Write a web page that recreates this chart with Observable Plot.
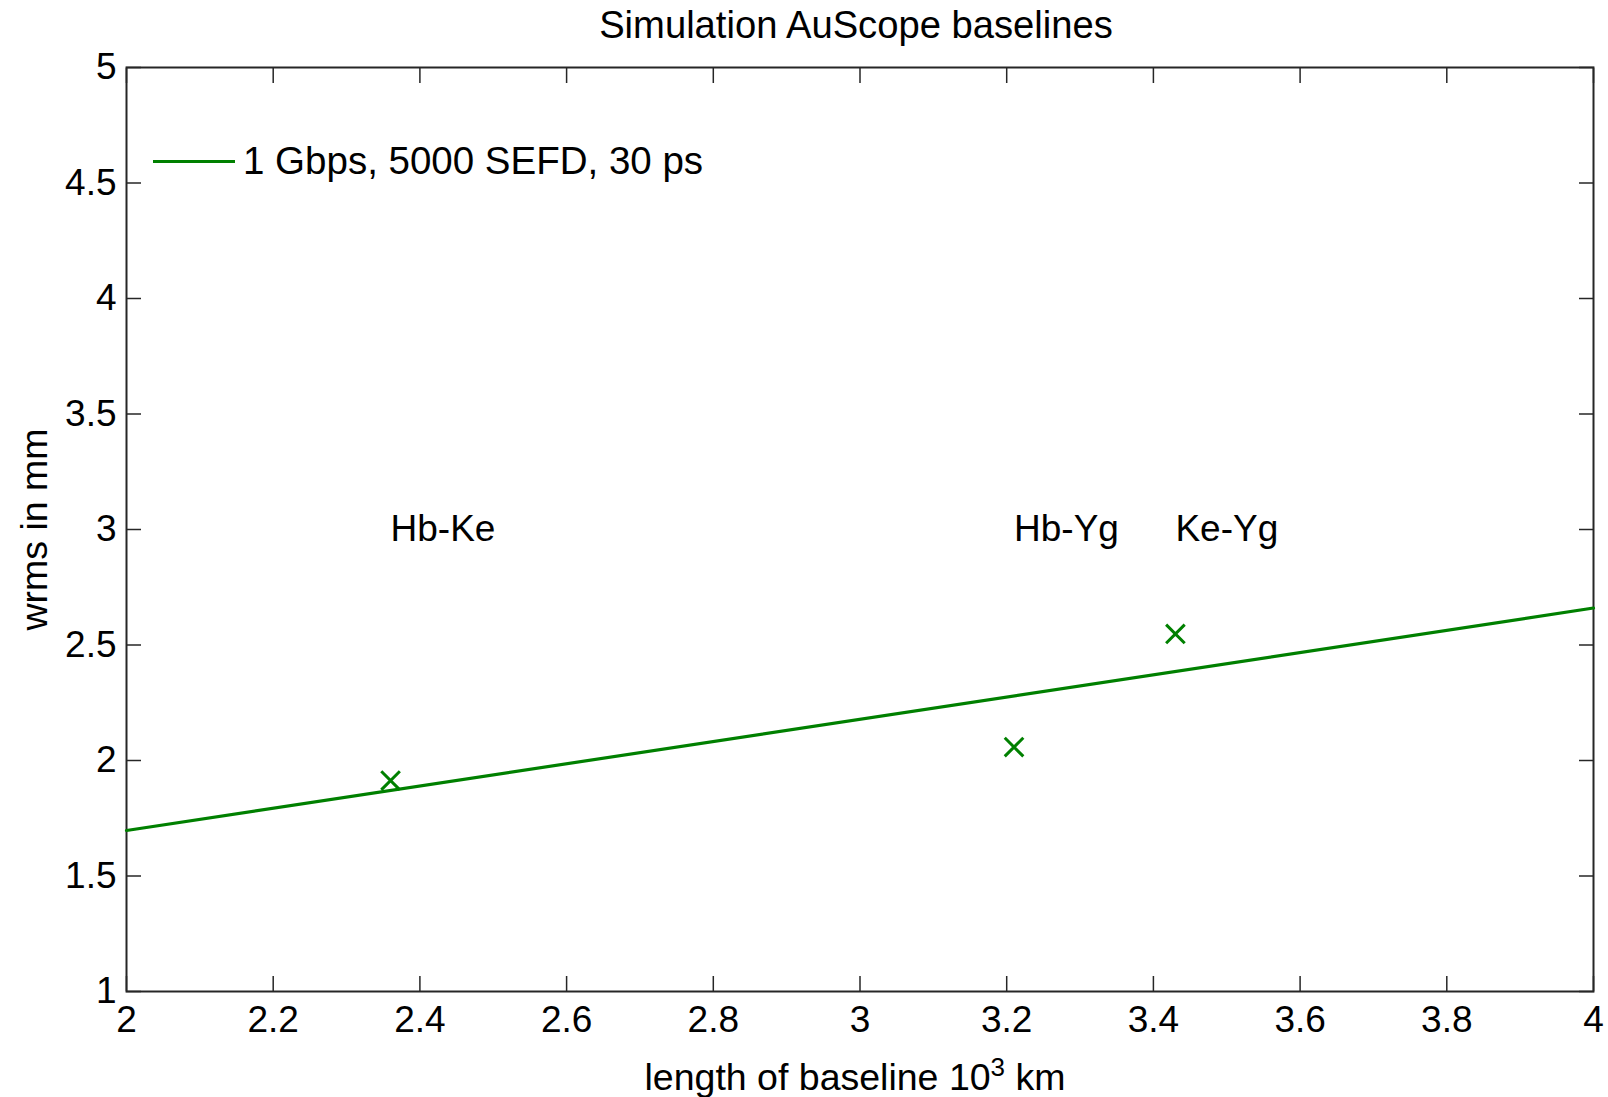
<!DOCTYPE html>
<html><head><meta charset="utf-8">
<script src="https://cdn.jsdelivr.net/npm/d3@7"></script>
<script src="https://cdn.jsdelivr.net/npm/@observablehq/plot@0.6"></script>
<style>
body{margin:0;background:#fff}
#wrap{position:relative;width:1608px;height:1097px;font-family:"Liberation Sans",Arial,sans-serif}
#legend{position:absolute;left:153px;top:139px;display:flex;align-items:center;height:44px;font-size:38.5px;color:#000}
#legend .swatch{width:82px;height:3px;background:#008000;margin-right:8px}
</style>
</head><body><div id="wrap"></div>
<script>
// Data
const baselines = ["Hb-Ke", "Hb-Yg", "Ke-Yg"];
const lengths = [2.36, 3.21, 3.43];
const wrms = [1.913, 2.058, 2.548];
const labelY = [3, 3, 3];
const fitX = [2, 4];
const fitY = [1.697, 2.66];
const xTicks = [2, 2.2, 2.4, 2.6, 2.8, 3, 3.2, 3.4, 3.6, 3.8, 4];
const yTicks = [1, 1.5, 2, 2.5, 3, 3.5, 4, 4.5, 5];
const seriesName = "1 Gbps, 5000 SEFD, 30 ps";
const title = "Simulation AuScope baselines";
const xLabelMain = "length of baseline 10";
const xLabelSup = "3";
const xLabelUnit = " km";
const yLabel = "wrms in mm";

const points = baselines.map((b, i) => ({name: b, x: lengths[i], y: wrms[i], ly: labelY[i]}));
const fit = fitX.map((x, i) => ({x, y: fitY[i]}));
const green = "#008000";
const ink = "#262626";
const fmt = d => String(d);

const chart = Plot.plot({
  width: 1608, height: 1097,
  marginLeft: 126, marginRight: 15, marginTop: 67, marginBottom: 106,
  style: {fontFamily: '"Liberation Sans", Arial, sans-serif', fontSize: "37px", background: "#fff", color: "#000"},
  x: {domain: [2, 4]},
  y: {domain: [1, 5]},
  marks: [
    Plot.axisX(xTicks, {anchor: "bottom", tickSize: 0, tickPadding: 14, tickFormat: fmt, fontSize: 37, label: null, fill: "#000"}),
    Plot.axisX(xTicks, {anchor: "bottom", tickSize: -15, text: null, label: null, stroke: ink, strokeWidth: 1.5}),
    Plot.axisX(xTicks, {anchor: "top", tickSize: -15, text: null, label: null, stroke: ink, strokeWidth: 1.5}),
    Plot.axisY(yTicks, {anchor: "left", tickSize: 0, tickPadding: 10, tickFormat: fmt, fontSize: 37, label: null, fill: "#000"}),
    Plot.axisY(yTicks, {anchor: "left", tickSize: -15, text: null, label: null, stroke: ink, strokeWidth: 1.5}),
    Plot.axisY(yTicks, {anchor: "right", tickSize: -15, text: null, label: null, stroke: ink, strokeWidth: 1.5}),
    Plot.frame({stroke: ink, strokeWidth: 2}),
    Plot.line(fit, {x: "x", y: "y", stroke: green, strokeWidth: 3.2}),
    Plot.dot(points, {x: "x", y: "y", symbol: "times", r: 8.5, stroke: green, strokeWidth: 3}),
    Plot.text(points, {x: "x", y: "ly", text: "name", textAnchor: "start", fontSize: 37, fill: "#000"}),
    Plot.text([title], {frameAnchor: "top", dy: -42, dx: -4, textAnchor: "middle", lineAnchor: "middle", fontSize: 38.2, fill: "#000"}),
    Plot.text([xLabelMain + xLabelSup + xLabelUnit], {frameAnchor: "bottom", dy: 86, dx: -5, textAnchor: "middle", lineAnchor: "middle", fontSize: 37.5, fill: "#000"}),
    Plot.text([yLabel], {frameAnchor: "left", dx: -92, rotate: -90, textAnchor: "middle", lineAnchor: "middle", fontSize: 37.5, fill: "#000"})
  ]
});
// superscript in x label
chart.querySelectorAll("text").forEach(t => {
  if (t.textContent === xLabelMain + xLabelSup + xLabelUnit) {
    t.textContent = "";
    const ns = "http://www.w3.org/2000/svg";
    const a = document.createElementNS(ns, "tspan"); a.textContent = xLabelMain;
    const b = document.createElementNS(ns, "tspan"); b.textContent = xLabelSup;
    b.setAttribute("font-size", "26"); b.setAttribute("dy", "-14");
    const c = document.createElementNS(ns, "tspan"); c.textContent = xLabelUnit; c.setAttribute("dy", "14");
    t.append(a, b, c);
  }
});
const wrap = document.getElementById("wrap");
wrap.appendChild(chart);
const legend = document.createElement("div");
legend.id = "legend";
legend.innerHTML = '<span class="swatch"></span><span></span>';
legend.lastChild.textContent = seriesName;
wrap.appendChild(legend);
</script>
</body></html>
